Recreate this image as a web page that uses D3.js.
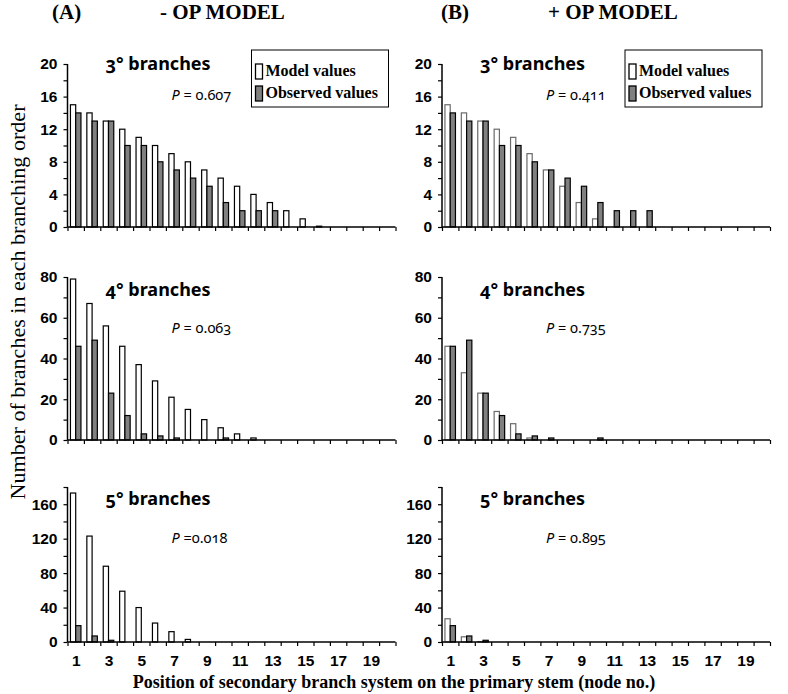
<!DOCTYPE html>
<html>
<head>
<meta charset="utf-8">
<script src="https://cdn.jsdelivr.net/npm/d3@7/dist/d3.min.js"></script>
<style>
  html, body { margin: 0; padding: 0; background: #fff; }
  svg { display: block; }
  .tick text { font-family: "Liberation Sans", Arial, sans-serif; font-weight: bold; font-size: 15.5px; fill: #000; }
  .serif { font-family: "Liberation Serif", "Times New Roman", serif; font-weight: bold; }
  .ptitle { font-family: "Noto Sans", "Open Sans", sans-serif; font-weight: bold; font-size: 18px; font-variant-numeric: oldstyle-nums; }
  .pval { font-family: "Noto Sans", "Open Sans", sans-serif; font-size: 14.5px; font-variant-numeric: oldstyle-nums; }
</style>
</head>
<body>
<svg id="chart" width="788" height="694"></svg>
<script>
// ---------------- data ----------------
const nodes = [1,2,3,4,5,6,7,8,9,10,11,12,13,14,15,16,17,18,19,20];
const xTickLabels = [1,3,5,7,9,11,13,15,17,19];

// 3° branches
const obs3    = [14,13,13,10,10,8,7,6,5,3,2,2,2,0,0,0,0,0,0,0];
const modelA3 = [15,14,13,12,11,10,9,8,7,6,5,4,3,2,1,0.1,0,0,0,0];
const modelB3 = [15,14,13,12,11,9,7,5,3,1,0,0,0,0,0,0,0,0,0,0];
// 4° branches
const obs4    = [46,49,23,12,3,2,1,0,0,1,0,0,0,0,0,0,0,0,0,0];
const modelA4 = [79,67,56,46,37,29,21,15,10,6,3,1,0,0,0,0,0,0,0,0];
const modelB4 = [46,33,23,14,8,1,0,0,0,0,0,0,0,0,0,0,0,0,0,0];
// 5° branches
const obs5    = [19,7,2,0,0,0,0,0,0,0,0,0,0,0,0,0,0,0,0,0];
const modelA5 = [173,123,88,59,40,22,12,3,0,0,0,0,0,0,0,0,0,0,0,0];
const modelB5 = [27,6,0.5,0,0,0,0,0,0,0,0,0,0,0,0,0,0,0,0,0];

const yMax3 = 20, yTicks3 = [0,2,4,6,8,10,12,14,16,18,20], yLabels3 = [0,4,8,12,16,20];
const yMax4 = 80, yTicks4 = [0,10,20,30,40,50,60,70,80], yLabels4 = [0,20,40,60,80];
const yMax5 = 180, yTicks5 = [0,20,40,60,80,100,120,140,160,180], yLabels5 = [0,40,80,120,160];

const pValuesA = ["P = 0.607", "P = 0.063", "P =0.018"];
const pValuesB = ["P = 0.411", "P = 0.735", "P = 0.895"];
const orderTitles = ["3° branches", "4° branches", "5° branches"];
const seriesNames = ["Model values", "Observed values"];

// ---------------- layout ----------------
const svg = d3.select("#chart");
const cols = [{x0: 67.5, x1: 395.5}, {x0: 442, x1: 770}];
const rows = [{top: 64, bot: 227}, {top: 277, bot: 440}, {top: 487, bot: 642}];
const titleDy = [6, 19, 18];
const pDy = [36, 56, 56];
const GRAY = "#808080";

const panels = [
  {c:0, r:0, model: modelA3, obs: obs3, yMax: yMax3, ticks: yTicks3, labels: yLabels3, p: pValuesA[0]},
  {c:0, r:1, model: modelA4, obs: obs4, yMax: yMax4, ticks: yTicks4, labels: yLabels4, p: pValuesA[1]},
  {c:0, r:2, model: modelA5, obs: obs5, yMax: yMax5, ticks: yTicks5, labels: yLabels5, p: pValuesA[2]},
  {c:1, r:0, model: modelB3, obs: obs3, yMax: yMax3, ticks: yTicks3, labels: yLabels3, p: pValuesB[0]},
  {c:1, r:1, model: modelB4, obs: obs4, yMax: yMax4, ticks: yTicks4, labels: yLabels4, p: pValuesB[1]},
  {c:1, r:2, model: modelB5, obs: obs5, yMax: yMax5, ticks: yTicks5, labels: yLabels5, p: pValuesB[2]},
];

panels.forEach(pn => {
  const col = cols[pn.c], row = rows[pn.r];
  const x = d3.scaleBand().domain(nodes).range([col.x0, col.x1]).padding(0);
  const xs = d3.scaleBand().domain(seriesNames).range([0, x.bandwidth()]).paddingInner(0).paddingOuter(0.56);
  const xl = d3.scaleLinear().domain([0.5, 20.5]).range([col.x0, col.x1]);
  const y = d3.scaleLinear().domain([0, pn.yMax]).range([row.bot, row.top]);
  const g = svg.append("g");

  const recs = [];
  nodes.forEach((n, i) => {
    if (pn.model[i] > 0) recs.push({n, s: seriesNames[0], v: pn.model[i]});
    if (pn.obs[i] > 0) recs.push({n, s: seriesNames[1], v: pn.obs[i]});
  });
  g.selectAll("rect.bar").data(recs).join("rect")
    .attr("class", "bar")
    .attr("x", d => x(d.n) + xs(d.s))
    .attr("width", xs.bandwidth())
    .attr("y", d => y(d.v))
    .attr("height", d => y(0) - y(d.v))
    .attr("fill", d => d.s === seriesNames[0] ? "#fff" : GRAY)
    .attr("stroke", d => (d.s === seriesNames[0] && pn.c === 1) ? "#6a6a6a" : "#000")
    .attr("stroke-width", 1.2);

  // y axis
  const ya = g.append("g").attr("transform", `translate(${col.x0},0)`)
    .call(d3.axisLeft(y).tickValues(pn.ticks).tickSize(4).tickPadding(6)
      .tickFormat(v => pn.labels.includes(v) ? v : ""));
  ya.select(".domain").attr("stroke-width", 1.5).attr("d", `M0,${row.bot}V${row.top}`);
  ya.selectAll(".tick line").attr("stroke-width", 1.2);

  // x axis: boundary ticks
  const xa = g.append("g").attr("transform", `translate(0,${row.bot})`)
    .call(d3.axisBottom(xl).tickValues(d3.range(0.5, 21, 1)).tickSize(4).tickFormat(""));
  xa.select(".domain").attr("stroke-width", 1.5).attr("d", `M${col.x0},0H${col.x1}`);
  xa.selectAll(".tick line").attr("stroke-width", 1.2);

  if (pn.r === 2) {
    const xb = g.append("g").attr("transform", `translate(0,${row.bot})`)
      .call(d3.axisBottom(xl).tickValues(xTickLabels).tickSize(0).tickPadding(13));
    xb.select(".domain").remove();
  }

  g.append("text").attr("class", "ptitle")
    .attr("x", col.x0 + 38).attr("y", row.top + titleDy[pn.r])
    .text(orderTitles[pn.r]);

  const pt = g.append("text").attr("class", "pval")
    .attr("x", col.x0 + 104).attr("y", row.top + pDy[pn.r]);
  pt.append("tspan").attr("font-style", "italic").text(pn.p.slice(0, 1));
  pt.append("tspan").text(pn.p.slice(1));

  // legend in top panels
  if (pn.r === 0) {
    const lx = col.x1 - 137 - (pn.c === 0 ? 7 : 8), ly = 50;
    const lg = g.append("g").attr("transform", `translate(${lx},${ly})`);
    lg.append("rect").attr("width", 137).attr("height", 57)
      .attr("fill", "#fff").attr("stroke", "#000").attr("stroke-width", 1);
    seriesNames.forEach((s, i) => {
      lg.append("rect").attr("x", 4).attr("y", 14 + i * 22).attr("width", 7).attr("height", 15)
        .attr("fill", i === 0 ? "#fff" : GRAY).attr("stroke", "#000").attr("stroke-width", 1.3);
      lg.append("text").attr("class", "serif").attr("font-size", 16)
        .attr("x", 14).attr("y", 26 + i * 22).text(s);
    });
  }
});

// Column headings
svg.append("text").attr("class", "serif").attr("font-size", 21).attr("x", 52).attr("y", 19).text("(A)");
svg.append("text").attr("class", "serif").attr("font-size", 21).attr("x", 160).attr("y", 19).text("- OP MODEL");
svg.append("text").attr("class", "serif").attr("font-size", 21).attr("x", 441).attr("y", 19).text("(B)");
svg.append("text").attr("class", "serif").attr("font-size", 21).attr("x", 548).attr("y", 19).text("+ OP MODEL");

// Axis titles
svg.append("text").attr("class", "serif").attr("font-size", 20.5).attr("font-weight", "normal")
  .style("font-weight", "normal")
  .attr("text-anchor", "middle")
  .attr("textLength", 395).attr("lengthAdjust", "spacingAndGlyphs")
  .attr("transform", "translate(25,302) rotate(-90)")
  .text("Number of branches in each branching order");
svg.append("text").attr("class", "serif").attr("font-size", 18)
  .attr("text-anchor", "middle")
  .attr("x", 394).attr("y", 688)
  .text("Position of secondary branch system on the primary stem (node no.)");
</script>
</body>
</html>
